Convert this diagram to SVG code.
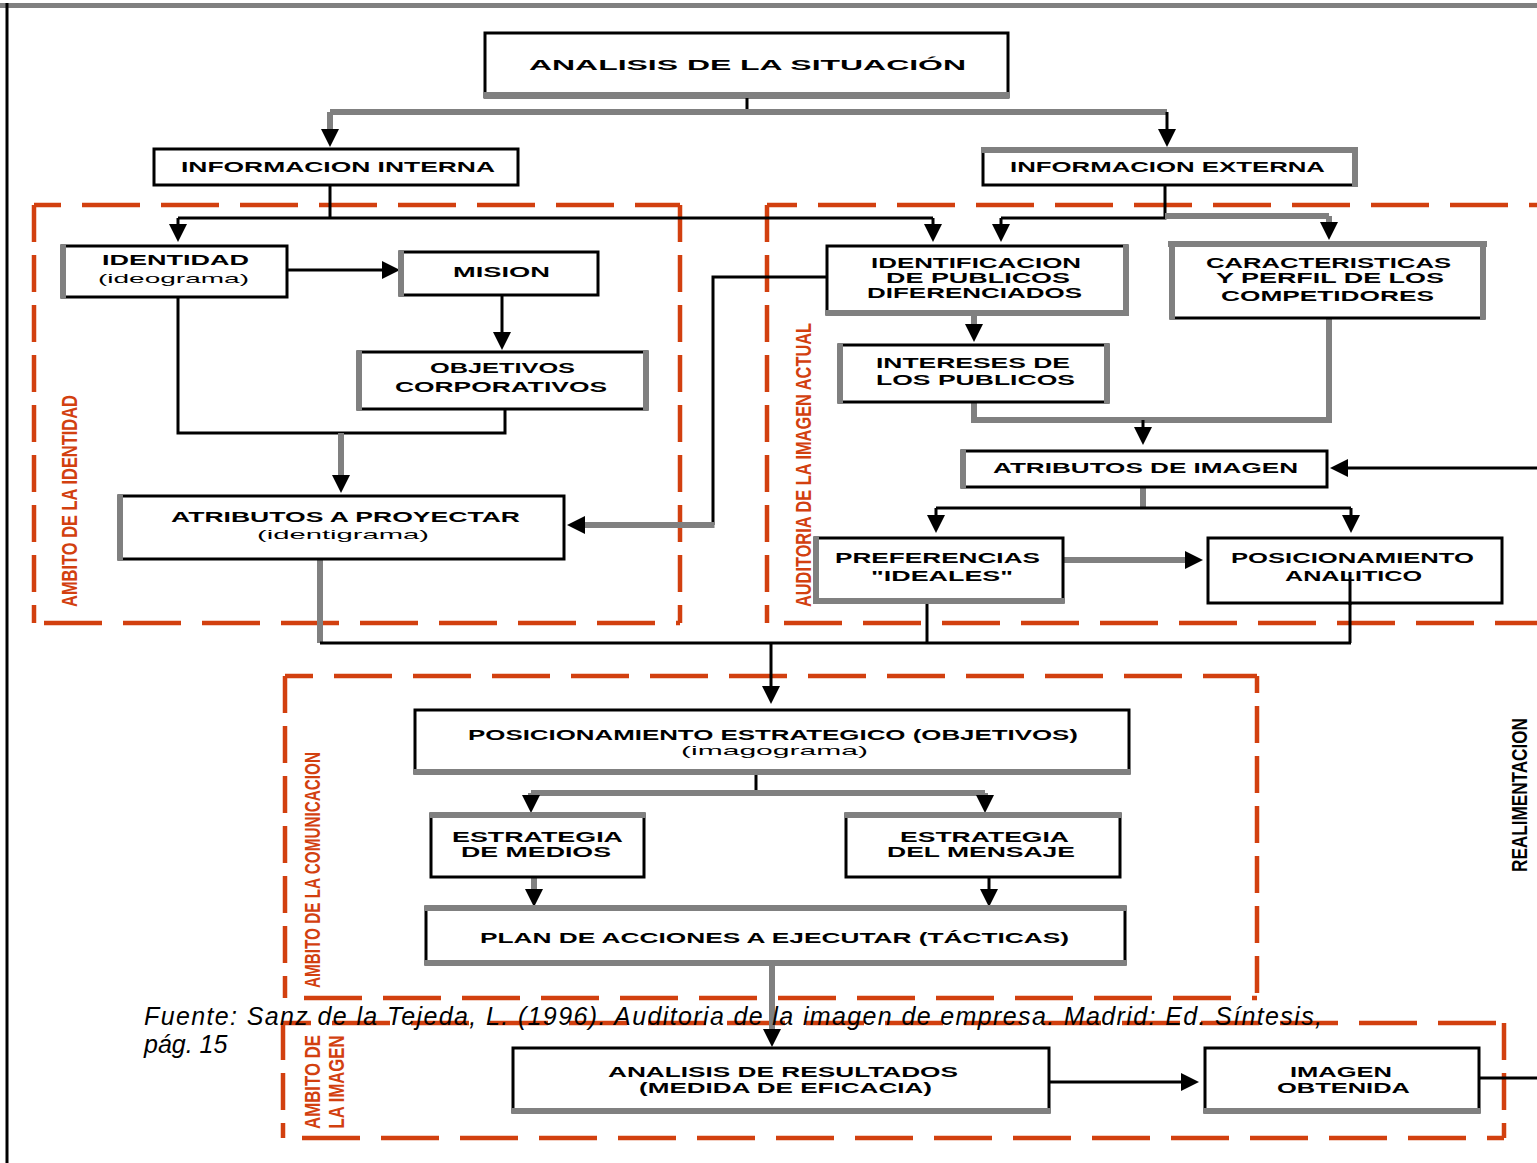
<svg xmlns="http://www.w3.org/2000/svg" width="1537" height="1163" viewBox="0 0 1537 1163">
<defs>
<style>
.box{fill:#fff;stroke:#000;stroke-width:3}
.edge{stroke:#808080;stroke-width:6;fill:none}
.c{fill:none;stroke:#000;stroke-width:3}
.g{fill:none;stroke:#808080;stroke-width:6}
.t{font-family:"Liberation Sans",Arial,sans-serif;font-weight:bold;font-size:14px;fill:#000;text-anchor:middle}
.s{font-size:13px;font-weight:normal}
.zone{fill:none;stroke:#d2400f;stroke-width:4.5}
.h{stroke-dasharray:58 21}
.v{stroke-dasharray:37 13}
.lbl{font-family:"Liberation Sans",Arial,sans-serif;font-weight:bold;font-size:22px;fill:#d2400f;text-anchor:middle}
.cap{font-family:"Liberation Sans",Arial,sans-serif;font-style:italic;font-size:25px;fill:#000}
</style>
<marker id="ah" markerUnits="userSpaceOnUse" markerWidth="18" markerHeight="18" viewBox="0 0 18 18" refX="12" refY="9" orient="auto"><path d="M0,0 L18,9 L0,18 z" fill="#000"/></marker>
</defs>
<rect x="0" y="0" width="1537" height="1163" fill="#fff"/>
<g id="frame">
<line x1="0" y1="5.5" x2="1537" y2="5.5" stroke="#808080" stroke-width="5"/>
<line x1="7" y1="3" x2="7" y2="1163" stroke="#000" stroke-width="3"/>
</g>
<g id="zones">
<g id="zone-identidad">
<line class="zone h" x1="34" y1="205" x2="680" y2="205" stroke-dashoffset="31"/>
<line class="zone h" x1="34" y1="623" x2="680" y2="623" stroke-dashoffset="69"/>
<line class="zone v" x1="34" y1="205" x2="34" y2="623"/>
<line class="zone v" x1="680" y1="205" x2="680" y2="623"/>
</g>
<g id="zone-auditoria">
<line class="zone h" x1="767" y1="205" x2="1537" y2="205" stroke-dashoffset="28"/>
<line class="zone h" x1="767" y1="623" x2="1537" y2="623" stroke-dashoffset="62"/>
<line class="zone v" x1="767" y1="205" x2="767" y2="623"/>
</g>
<g id="zone-comunicacion">
<line class="zone h" x1="285" y1="676" x2="1257" y2="676" stroke-dashoffset="30"/>
<line class="zone h" x1="285" y1="998" x2="1257" y2="998" stroke-dashoffset="60"/>
<line class="zone v" x1="285" y1="676" x2="285" y2="998"/>
<line class="zone v" x1="1257" y1="676" x2="1257" y2="998" stroke-dashoffset="20"/>
</g>
<g id="zone-imagen">
<line class="zone h" x1="283" y1="1023" x2="1504" y2="1023" stroke-dashoffset="30"/>
<line class="zone h" x1="283" y1="1138" x2="1504" y2="1138" stroke-dashoffset="60"/>
<line class="zone v" x1="283" y1="1023" x2="283" y2="1138"/>
<line class="zone v" x1="1504" y1="1023" x2="1504" y2="1138"/>
</g>
</g>
<g id="connectors">
<path class="c" d="M747,97 V112"/>
<path class="g" d="M330,112 H1167"/>
<path class="g" d="M330,112 V141" marker-end="url(#ah)"/>
<path class="c" d="M1167,112 V141" marker-end="url(#ah)"/>
<path class="c" d="M330,185 V218"/>
<path class="c" d="M178,218 H933"/>
<path class="c" d="M178,218 V236" marker-end="url(#ah)"/>
<path class="c" d="M933,218 V236" marker-end="url(#ah)"/>
<path class="c" d="M1165,185 V218 H1001"/>
<path class="g" d="M1165,216 H1329"/>
<path class="c" d="M1001,218 V236" marker-end="url(#ah)"/>
<path class="g" d="M1329,216 V234" marker-end="url(#ah)"/>
<path class="c" d="M287,270 H394" marker-end="url(#ah)"/>
<path class="c" d="M502,295 V344" marker-end="url(#ah)"/>
<path class="c" d="M178,297 V433 H505 V409"/>
<path class="g" d="M341,433 V487" marker-end="url(#ah)"/>
<path class="c" d="M827,277 H713 V525"/>
<path class="g" d="M714.5,525 H573" marker-end="url(#ah)"/>
<path class="g" d="M320,559 V643"/>
<path class="c" d="M320,643 H1351"/>
<path class="c" d="M927,602 V643"/>
<path class="c" d="M1350,572 V643"/>
<path class="c" d="M771,643 V698" marker-end="url(#ah)"/>
<path class="g" d="M974,314 V336" marker-end="url(#ah)"/>
<path class="g" d="M974,402 V420 H1329 V318"/>
<path class="c" d="M1143,420 V439" marker-end="url(#ah)"/>
<path class="c" d="M1537,468 H1336" marker-end="url(#ah)"/>
<path class="g" d="M1143,487 V508"/>
<path class="c" d="M936,508 H1351"/>
<path class="c" d="M936,508 V527" marker-end="url(#ah)"/>
<path class="c" d="M1351,508 V527" marker-end="url(#ah)"/>
<path class="g" d="M1063,560 H1197" marker-end="url(#ah)"/>
<path class="c" d="M756,773 V793"/>
<path class="g" d="M531,793 H985"/>
<path class="g" d="M531,793 V807" marker-end="url(#ah)"/>
<path class="g" d="M985,793 V807" marker-end="url(#ah)"/>
<path class="g" d="M534,877 V901" marker-end="url(#ah)"/>
<path class="c" d="M989,877 V901" marker-end="url(#ah)"/>
<path class="g" d="M772,964 V1041" marker-end="url(#ah)"/>
<path class="c" d="M1049,1082 H1193" marker-end="url(#ah)"/>
<path class="c" d="M1479,1078 H1537" stroke-width="4"/>
</g>
<g id="n-situacion">
<rect class="box" x="485" y="33" width="523" height="64"/>
<line class="edge" x1="483" y1="95" x2="1010" y2="95"/>
<text class="t" x="747.5" y="70" font-size="18" textLength="437" lengthAdjust="spacingAndGlyphs">ANALISIS DE LA SITUACIÓN</text>
</g>
<g id="n-interna">
<rect class="box" x="154" y="149" width="364" height="36"/>
<text class="t" x="338" y="172" textLength="314" lengthAdjust="spacingAndGlyphs">INFORMACION INTERNA</text>
</g>
<g id="n-externa">
<rect class="box" x="983" y="149" width="373" height="36"/>
<line class="edge" x1="981" y1="150" x2="1358" y2="150"/>
<line class="edge" x1="1355" y1="147" x2="1355" y2="187"/>
<text class="t" x="1167.5" y="172" textLength="315" lengthAdjust="spacingAndGlyphs">INFORMACION EXTERNA</text>
</g>
<g id="n-identidad">
<rect class="box" x="62" y="246" width="225" height="51"/>
<line class="edge" x1="63" y1="244.5" x2="63" y2="298.5"/>
<text class="t" x="175.5" y="265" textLength="147" lengthAdjust="spacingAndGlyphs">IDENTIDAD</text>
<text class="t s" x="173.5" y="283" textLength="151" lengthAdjust="spacingAndGlyphs">(ideograma)</text>
</g>
<g id="n-mision">
<rect class="box" x="400" y="252" width="198" height="43"/>
<line class="edge" x1="401" y1="250.5" x2="401" y2="296.5"/>
<text class="t" x="501.5" y="277" textLength="97" lengthAdjust="spacingAndGlyphs">MISION</text>
</g>
<g id="n-objetivos">
<rect class="box" x="358" y="352" width="289" height="57"/>
<line class="edge" x1="359" y1="350.5" x2="359" y2="410.5"/>
<line class="edge" x1="646" y1="350.5" x2="646" y2="410.5"/>
<text class="t" x="502.5" y="373" textLength="145" lengthAdjust="spacingAndGlyphs">OBJETIVOS</text>
<text class="t" x="501" y="392" textLength="212" lengthAdjust="spacingAndGlyphs">CORPORATIVOS</text>
</g>
<g id="n-atributos-proyectar">
<rect class="box" x="119" y="496" width="445" height="63"/>
<line class="edge" x1="120" y1="494.5" x2="120" y2="560.5"/>
<text class="t" x="345.5" y="522" font-size="15" textLength="349" lengthAdjust="spacingAndGlyphs">ATRIBUTOS A PROYECTAR</text>
<text class="t s" x="343" y="539" textLength="172" lengthAdjust="spacingAndGlyphs">(identigrama)</text>
</g>
<g id="n-identificacion">
<rect class="box" x="827" y="246" width="300" height="68"/>
<line class="edge" x1="1126" y1="244.5" x2="1126" y2="315.5"/>
<line class="edge" x1="825.5" y1="313" x2="1129" y2="313"/>
<text class="t" x="976" y="268" textLength="210" lengthAdjust="spacingAndGlyphs">IDENTIFICACION</text>
<text class="t" x="978" y="283" textLength="184" lengthAdjust="spacingAndGlyphs">DE PUBLICOS</text>
<text class="t" x="974.5" y="298" textLength="215" lengthAdjust="spacingAndGlyphs">DIFERENCIADOS</text>
</g>
<g id="n-caracteristicas">
<rect class="box" x="1171" y="243" width="313" height="75"/>
<line class="edge" x1="1168" y1="244" x2="1487" y2="244"/>
<line class="edge" x1="1172" y1="241" x2="1172" y2="319.5"/>
<line class="edge" x1="1483" y1="241" x2="1483" y2="319.5"/>
<text class="t" x="1328.5" y="268" textLength="245" lengthAdjust="spacingAndGlyphs">CARACTERISTICAS</text>
<text class="t" x="1330" y="283" textLength="228" lengthAdjust="spacingAndGlyphs">Y PERFIL DE LOS</text>
<text class="t" x="1327.5" y="301" textLength="213" lengthAdjust="spacingAndGlyphs">COMPETIDORES</text>
</g>
<g id="n-intereses">
<rect class="box" x="839" y="345" width="269" height="57"/>
<line class="edge" x1="840" y1="343.5" x2="840" y2="403.5"/>
<line class="edge" x1="1107" y1="343.5" x2="1107" y2="403.5"/>
<text class="t" x="973" y="368" textLength="194" lengthAdjust="spacingAndGlyphs">INTERESES DE</text>
<text class="t" x="975.5" y="385" textLength="199" lengthAdjust="spacingAndGlyphs">LOS PUBLICOS</text>
</g>
<g id="n-atributos-imagen">
<rect class="box" x="962" y="451" width="365" height="36"/>
<line class="edge" x1="963" y1="449.5" x2="963" y2="488.5"/>
<text class="t" x="1145.5" y="473" textLength="305" lengthAdjust="spacingAndGlyphs">ATRIBUTOS DE IMAGEN</text>
</g>
<g id="n-preferencias">
<rect class="box" x="815" y="538" width="248" height="64"/>
<line class="edge" x1="816" y1="536.5" x2="816" y2="604"/>
<line class="edge" x1="813" y1="601" x2="1064.5" y2="601"/>
<text class="t" x="937.5" y="563" textLength="205" lengthAdjust="spacingAndGlyphs">PREFERENCIAS</text>
<text class="t" x="942" y="581" textLength="142" lengthAdjust="spacingAndGlyphs">"IDEALES"</text>
</g>
<g id="n-posicionamiento-analitico">
<rect class="box" x="1208" y="538" width="294" height="65"/>
<text class="t" x="1352.5" y="563" textLength="243" lengthAdjust="spacingAndGlyphs">POSICIONAMIENTO</text>
<text class="t" x="1353.5" y="581" textLength="137" lengthAdjust="spacingAndGlyphs">ANALITICO</text>
</g>
<line x1="1350" y1="572" x2="1350" y2="605" stroke="#000" stroke-width="3"/>
<g id="n-posicionamiento-estrategico">
<rect class="box" x="415" y="710" width="714" height="63"/>
<line class="edge" x1="413.5" y1="772" x2="1130.5" y2="772"/>
<text class="t" x="773" y="740" textLength="610" lengthAdjust="spacingAndGlyphs">POSICIONAMIENTO ESTRATEGICO (OBJETIVOS)</text>
<text class="t s" x="774.5" y="755" textLength="187" lengthAdjust="spacingAndGlyphs">(imagograma)</text>
</g>
<g id="n-estrategia-medios">
<rect class="box" x="431" y="814" width="213" height="63"/>
<line class="edge" x1="429.5" y1="815" x2="645.5" y2="815"/>
<text class="t" x="537.5" y="842" textLength="171" lengthAdjust="spacingAndGlyphs">ESTRATEGIA</text>
<text class="t" x="536" y="857" textLength="150" lengthAdjust="spacingAndGlyphs">DE MEDIOS</text>
</g>
<g id="n-estrategia-mensaje">
<rect class="box" x="846" y="814" width="274" height="63"/>
<line class="edge" x1="844.5" y1="815" x2="1121.5" y2="815"/>
<text class="t" x="984.5" y="842" textLength="169" lengthAdjust="spacingAndGlyphs">ESTRATEGIA</text>
<text class="t" x="981" y="857" textLength="188" lengthAdjust="spacingAndGlyphs">DEL MENSAJE</text>
</g>
<g id="n-plan">
<rect class="box" x="426" y="907" width="699" height="57"/>
<line class="edge" x1="424.5" y1="908" x2="1126.5" y2="908"/>
<line class="edge" x1="424.5" y1="963" x2="1126.5" y2="963"/>
<text class="t" x="774.5" y="943" font-size="15" textLength="589" lengthAdjust="spacingAndGlyphs">PLAN DE ACCIONES A EJECUTAR (TÁCTICAS)</text>
</g>
<g id="n-analisis-resultados">
<rect class="box" x="513" y="1048" width="536" height="64"/>
<line class="edge" x1="511.5" y1="1111" x2="1050.5" y2="1111"/>
<text class="t" x="783" y="1077" textLength="350" lengthAdjust="spacingAndGlyphs">ANALISIS DE RESULTADOS</text>
<text class="t" x="785.5" y="1093" textLength="293" lengthAdjust="spacingAndGlyphs">(MEDIDA DE EFICACIA)</text>
</g>
<g id="n-imagen-obtenida">
<rect class="box" x="1205" y="1048" width="274" height="64"/>
<line class="edge" x1="1203.5" y1="1111" x2="1480.5" y2="1111"/>
<text class="t" x="1341" y="1077" textLength="102" lengthAdjust="spacingAndGlyphs">IMAGEN</text>
<text class="t" x="1343.5" y="1093" textLength="133" lengthAdjust="spacingAndGlyphs">OBTENIDA</text>
</g>
<g id="zone-labels">
<text class="lbl" transform="translate(68.5,501) rotate(-90)" x="0" y="8" textLength="212" lengthAdjust="spacingAndGlyphs">AMBITO DE LA IDENTIDAD</text>
<text class="lbl" transform="translate(803,465) rotate(-90)" x="0" y="8" textLength="284" lengthAdjust="spacingAndGlyphs">AUDITORIA DE LA IMAGEN ACTUAL</text>
<text class="lbl" transform="translate(312,870) rotate(-90)" x="0" y="8" textLength="236" lengthAdjust="spacingAndGlyphs">AMBITO DE LA COMUNICACION</text>
<text class="lbl" transform="translate(312,1082) rotate(-90)" x="0" y="8" textLength="94" lengthAdjust="spacingAndGlyphs">AMBITO DE</text>
<text class="lbl" transform="translate(336,1082) rotate(-90)" x="0" y="8" textLength="93" lengthAdjust="spacingAndGlyphs">LA IMAGEN</text>
<text class="lbl" transform="translate(1518.5,795) rotate(-90)" x="0" y="8" style="fill:#000" textLength="154" lengthAdjust="spacingAndGlyphs">REALIMENTACION</text>
</g>
<g id="caption">
<text class="cap" x="144" y="1025" textLength="1178" lengthAdjust="spacing">Fuente: Sanz de la Tejeda, L. (1996). Auditoria de la imagen de empresa. Madrid: Ed. Síntesis,</text>
<text class="cap" x="144" y="1053">pág. 15</text>
</g>
</svg>
